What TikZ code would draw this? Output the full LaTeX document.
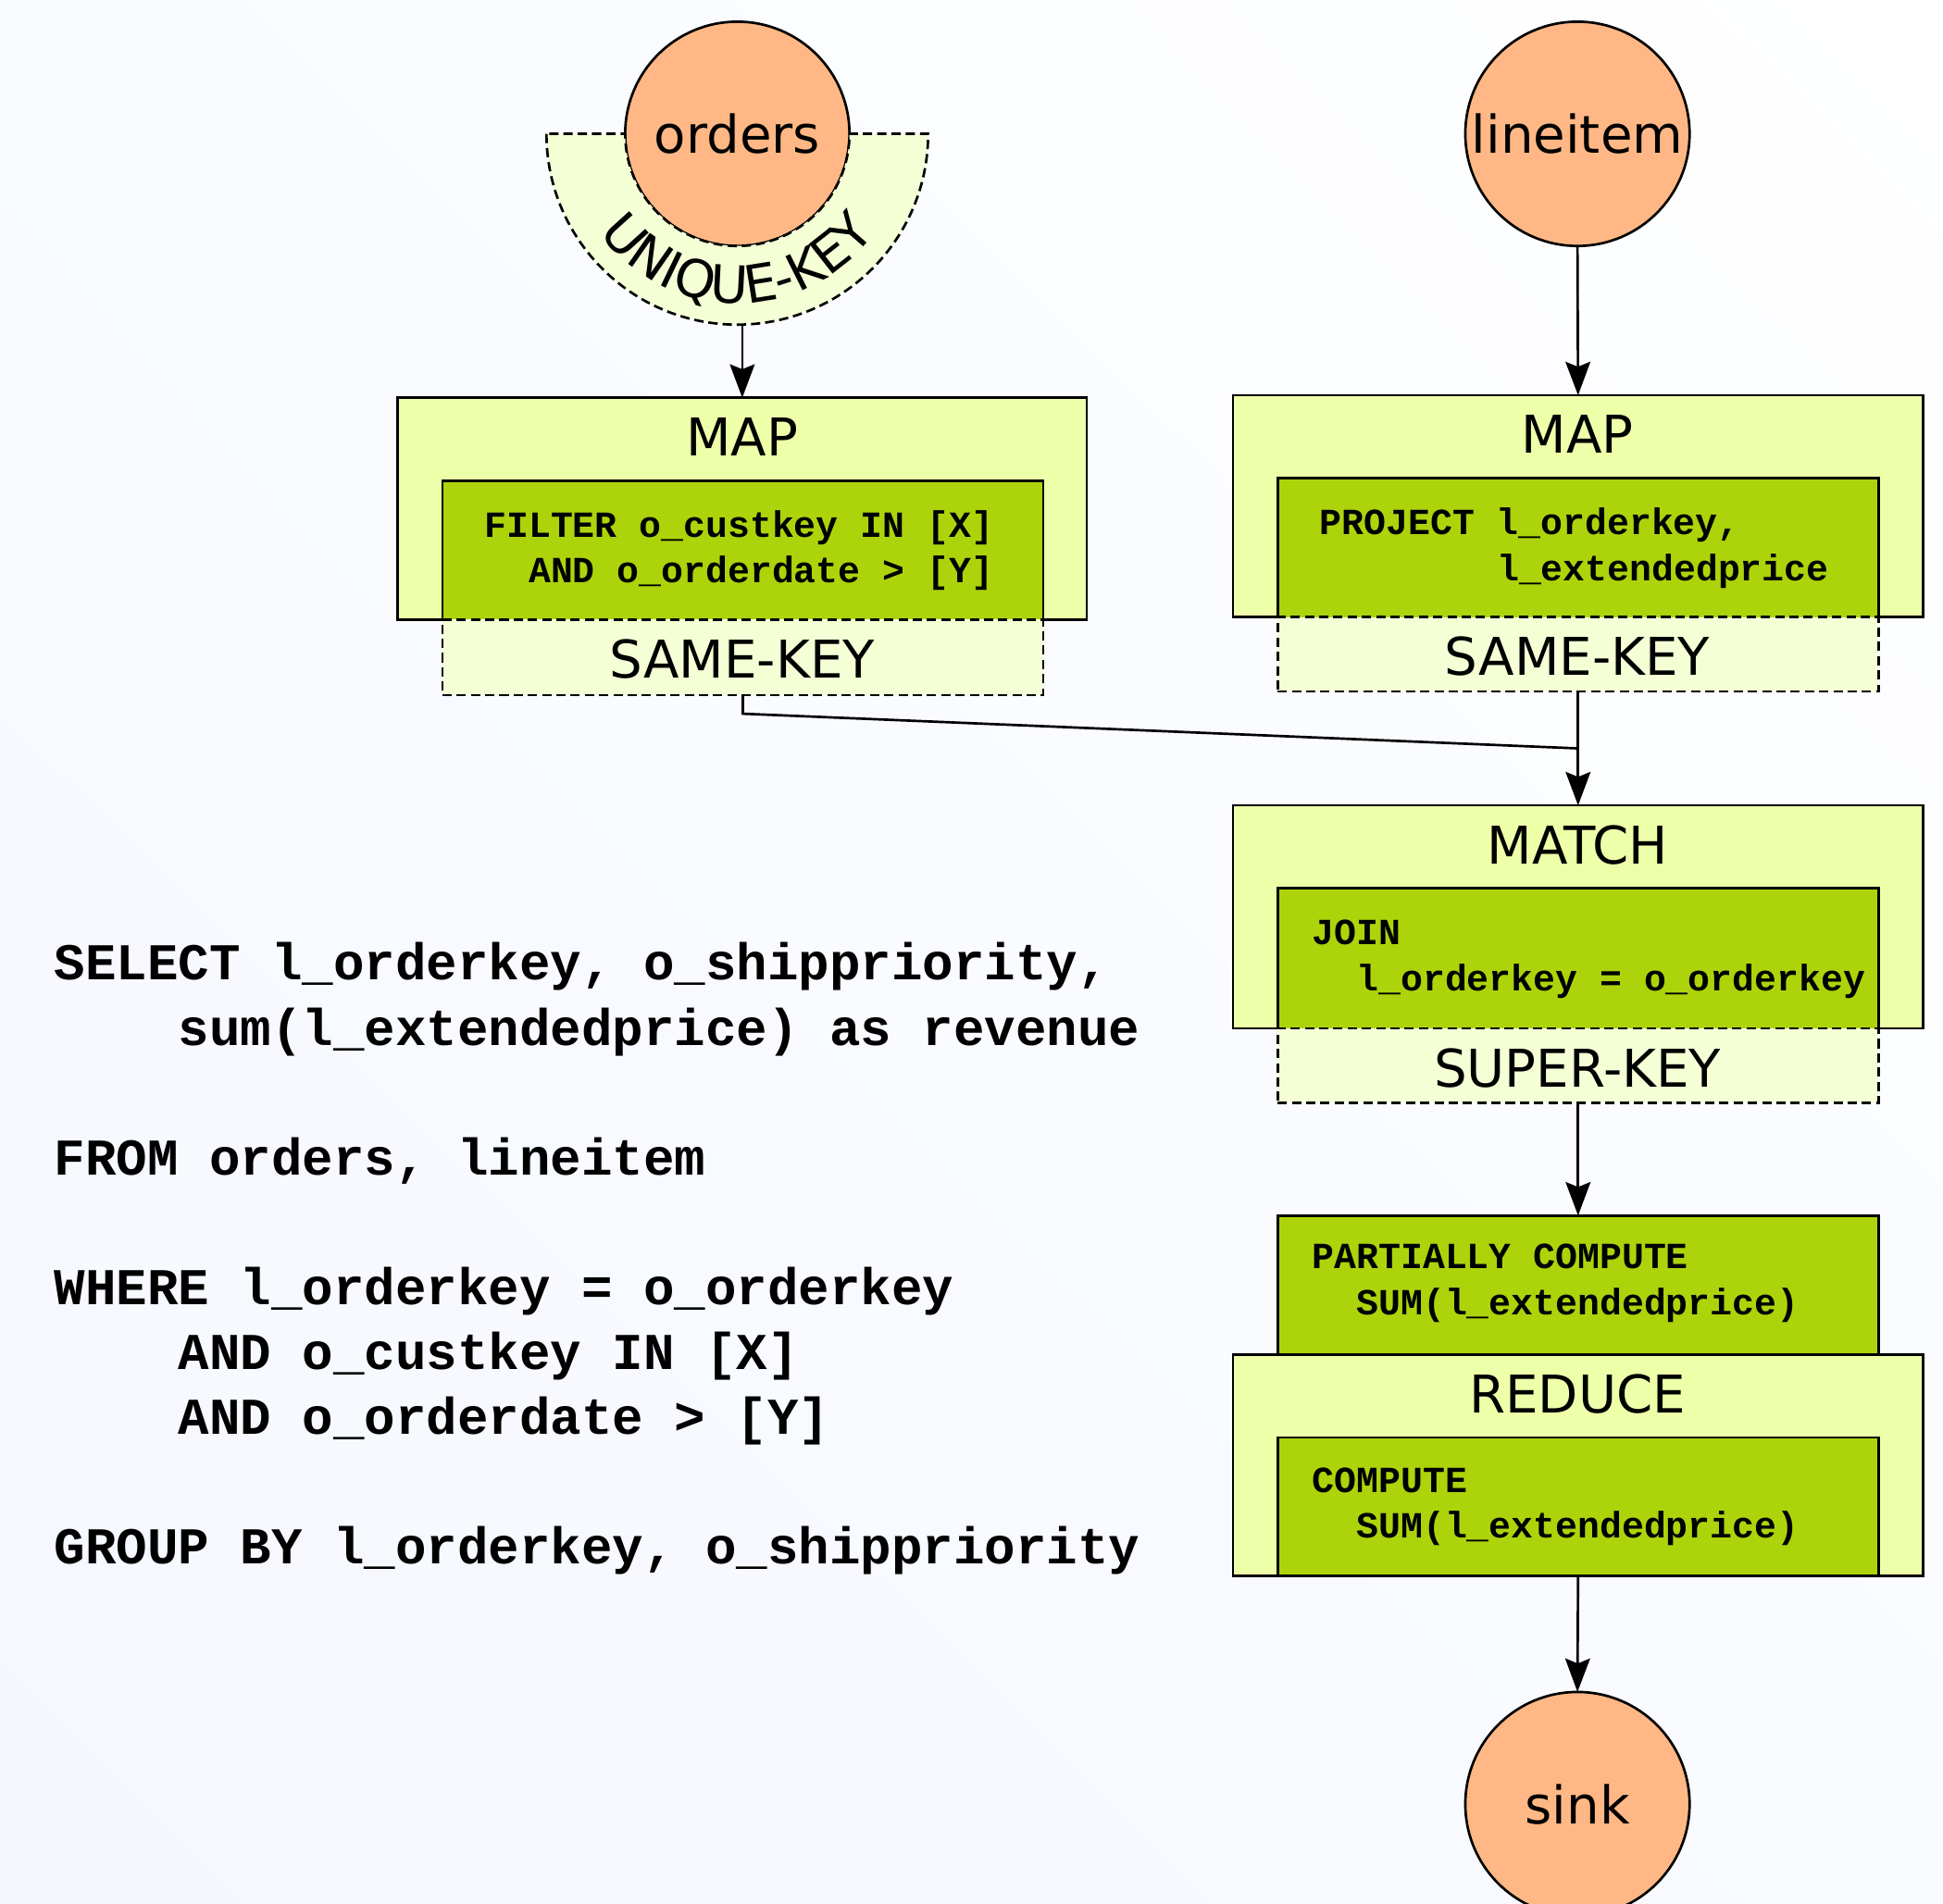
\documentclass[tikz,border=0pt]{standalone}
\usepackage{fontspec}
\setmainfont{DejaVu Sans}
\setmonofont{Liberation Mono}
\usetikzlibrary{arrows.meta,decorations.text,shadings}
\definecolor{circfill}{HTML}{FFB885}
\definecolor{outerfill}{HTML}{EEFFAA}
\definecolor{innerfill}{HTML}{ADD40B}
\definecolor{keyfill}{HTML}{F5FFD6}
\definecolor{bgA}{HTML}{F4F7FE}
\definecolor{bgB}{HTML}{F9FBFF}
\begin{document}
\begin{tikzpicture}[x=1pt,y=-1pt,line width=2pt,
  srcnode/.style={circle,draw=black,fill=circfill,minimum size=181pt,inner sep=0pt,outer sep=0pt,
    font=\fontsize{42}{50}\selectfont},
  outerbox/.style={rectangle,fill=outerfill,inner sep=0pt,outer sep=0pt,anchor=north west},
  innerbox/.style={rectangle,fill=innerfill,inner sep=0pt,outer sep=0pt,anchor=north west},
  fullbox/.style={rectangle,draw=black,inner sep=0pt,outer sep=0pt,anchor=north west},
  keybox/.style={rectangle,draw=black,fill=keyfill,dash pattern=on 7.5pt off 4pt,inner sep=0pt,outer sep=0pt,anchor=north west},
  border/.style={draw=black,line join=miter},
  lbl/.style={inner sep=0pt,anchor=base,font=\fontsize{42}{50}\selectfont},
  code/.style={inner sep=0pt,anchor=base west,font=\fontsize{29.75}{36}\selectfont\ttfamily\bfseries},
  sql/.style={inner sep=0pt,anchor=base west,font=\fontsize{41.7}{50}\selectfont\ttfamily\bfseries},
  arr/.style={draw=black,-{Stealth[length=27pt,width=20pt,inset=4pt]}},
  conn/.style={draw=black,line join=miter}
]
\useasboundingbox (0,0) rectangle (1568,1536.6);
\clip (0,0) rectangle (1568,1536.6);
\shade[lower left=bgA,upper right=white,upper left=bgB,lower right=bgB] (0,0) rectangle (1568,1536.6);

% sources
\node[srcnode] (orders) at (595,108) {orders};
\path[draw=black,fill=keyfill,dash pattern=on 7.5pt off 4pt]
  (orders.center) ++(-154,0) arc[start angle=180,end angle=0,radius=154]
  -- ++(-63.5,0) arc[start angle=0,end angle=180,radius=90.5] -- cycle;
\path[decorate,decoration={text along path,text align=center,
    text={|\fontsize{42}{42}\selectfont|UNIQUE-KEY}}]
  (orders.center) ++(-137,0) arc[start angle=180,end angle=0,radius=137];
\coordinate (ukb) at (599,262);
\node[srcnode] (lineitem) at (1273,108) {lineitem};

% left MAP
\node[outerbox,minimum width=556pt,minimum height=179pt] (lmap) at (321,321) {};
\node[innerbox,minimum width=485pt,minimum height=112pt] (lmapin) at (357,388) {};
\draw[border] (lmapin.south west) -- (lmap.south west) -- (lmap.north west) -- (lmap.north east) -- (lmap.south east) -- (lmapin.south east);
\draw[border] (lmapin.south west) -- (lmapin.north west) -- (lmapin.north east) -- (lmapin.south east);
\node[keybox,minimum width=485pt,minimum height=61pt] (lsk) at (357,500) {};
\node[lbl] (lmaplbl) at (599,368) {MAP};
\node[code] (lf1) at (390,433.5) {FILTER o\_custkey IN [X]};
\node[code] (lf2) at (425.7,470.5) {AND o\_orderdate > [Y]};
\node[lbl] (lsklbl) at (599,547) {SAME-KEY};

% right MAP
\node[outerbox,minimum width=557pt,minimum height=179pt] (rmap) at (995,319) {};
\node[innerbox,minimum width=485pt,minimum height=112pt] (rmapin) at (1031,386) {};
\draw[border] (rmapin.south west) -- (rmap.south west) -- (rmap.north west) -- (rmap.north east) -- (rmap.south east) -- (rmapin.south east);
\draw[border] (rmapin.south west) -- (rmapin.north west) -- (rmapin.north east) -- (rmapin.south east);
\node[keybox,minimum width=485pt,minimum height=60pt] (rsk) at (1031,498) {};
\node[lbl] (rmaplbl) at (1273,366) {MAP};
\node[code] (rp1) at (1064,431.5) {PROJECT l\_orderkey,};
\node[code] (rp2) at (1207,468.5) {l\_extendedprice};
\node[lbl] (rsklbl) at (1273,545) {SAME-KEY};

% MATCH
\node[outerbox,minimum width=557pt,minimum height=180pt] (match) at (995,650) {};
\node[innerbox,minimum width=485pt,minimum height=113pt] (matchin) at (1031,717) {};
\draw[border] (matchin.south west) -- (match.south west) -- (match.north west) -- (match.north east) -- (match.south east) -- (matchin.south east);
\draw[border] (matchin.south west) -- (matchin.north west) -- (matchin.north east) -- (matchin.south east);
\node[keybox,minimum width=485pt,minimum height=60pt] (superk) at (1031,830) {};
\node[lbl] (matchlbl) at (1273,697) {MATCH};
\node[code] (mj1) at (1058,762.5) {JOIN};
\node[code] (mj2) at (1093.7,799.5) {l\_orderkey = o\_orderkey};
\node[lbl] (superklbl) at (1273,877) {SUPER-KEY};

% partial + REDUCE
\node[fullbox,fill=innerfill,minimum width=485pt,minimum height=112pt] (partial) at (1031,981) {};
\node[code] (pc1) at (1058,1024) {PARTIALLY COMPUTE};
\node[code] (pc2) at (1093.7,1061.5) {SUM(l\_extendedprice)};
\node[fullbox,fill=outerfill,minimum width=557pt,minimum height=179pt] (reduce) at (995,1093) {};
\node[fullbox,fill=innerfill,minimum width=485pt,minimum height=112pt] (reducein) at (1031,1160) {};
\node[lbl] (reducelbl) at (1273,1140) {REDUCE};
\node[code] (rc1) at (1058,1204.5) {COMPUTE};
\node[code] (rc2) at (1093.7,1241.5) {SUM(l\_extendedprice)};

\node[srcnode] (sink) at (1273,1456) {sink};

% connectors
\draw[arr] (ukb) -- (lmap.north);
\draw[arr] (lineitem.south) -- (rmap.north);
\coordinate (merge) at (1273.5,604);
\draw[conn] (lsk.south) -- ++(0,15) -- (merge);
\draw[arr] (rsk.south) -- (match.north);
\draw[arr] (superk.south) -- (partial.north);
\draw[arr] (reduce.south) -- (sink.north);

% SQL
\node[sql] (s1) at (43,791) {SELECT l\_orderkey, o\_shippriority,};
\node[sql] (s2) at (143,843.4) {sum(l\_extendedprice) as revenue};
\node[sql] (s3) at (43,948.2) {FROM orders, lineitem};
\node[sql] (s4) at (43,1053) {WHERE l\_orderkey = o\_orderkey};
\node[sql] (s5) at (143,1105.4) {AND o\_custkey IN [X]};
\node[sql] (s6) at (143,1157.8) {AND o\_orderdate > [Y]};
\node[sql] (s7) at (43,1262.2) {GROUP BY l\_orderkey, o\_shippriority};
\end{tikzpicture}
\end{document}
